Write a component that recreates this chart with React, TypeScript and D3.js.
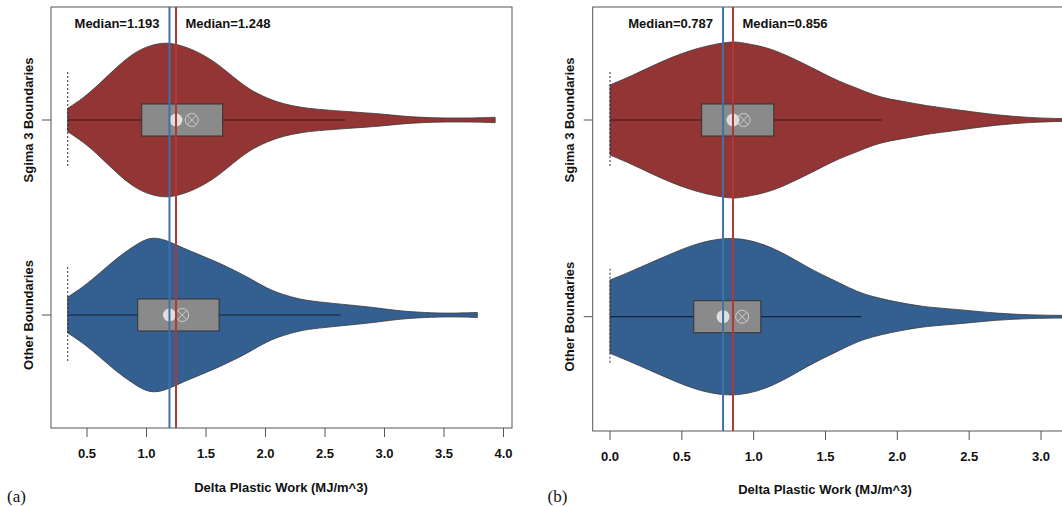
import { area, curveBasis, scaleLinear, scalePoint, select } from 'd3'
import { useEffect, useRef } from 'react'

// categories (top to bottom)
const categories = ['Sgima 3 Boundaries', 'Other Boundaries']

// tick labels
const ticksA = [0.5, 1.0, 1.5, 2.0, 2.5, 3.0, 3.5, 4.0]
const ticksB = [0.0, 0.5, 1.0, 1.5, 2.0, 2.5, 3.0]

// medians: [other (blue), sigma 3 (red)]
const mediansA = [1.193, 1.248]
const mediansB = [0.787, 0.856]

// violin outlines: [value, relative density]
const densityA_sigma: [number, number][] = [
  [0.338, 0.15], [0.469, 0.28], [0.61, 0.47], [0.75, 0.68], [0.89, 0.86], [1.03, 0.96],
  [1.17, 1.0], [1.31, 0.95], [1.45, 0.86], [1.59, 0.73], [1.73, 0.55], [1.87, 0.385],
  [2.01, 0.28], [2.15, 0.205], [2.29, 0.163], [2.43, 0.137], [2.71, 0.106], [3.0, 0.075],
  [3.13, 0.05], [3.41, 0.025], [3.7, 0.024], [3.93, 0.035],
]
const densityA_other: [number, number][] = [
  [0.338, 0.23], [0.469, 0.36], [0.61, 0.54], [0.75, 0.73], [0.89, 0.88], [1.03, 1.01],
  [1.17, 0.96], [1.31, 0.855], [1.45, 0.77], [1.59, 0.68], [1.73, 0.58], [1.87, 0.47],
  [2.01, 0.34], [2.15, 0.26], [2.29, 0.2], [2.43, 0.17], [2.71, 0.128], [2.95, 0.09],
  [3.13, 0.05], [3.41, 0.025], [3.6, 0.023], [3.78, 0.032],
]
const densityB_sigma: [number, number][] = [
  [0, 0.45], [0.146, 0.56], [0.378, 0.77], [0.61, 0.93], [0.84, 1.01], [0.905, 0.995],
  [1.02, 0.96], [1.14, 0.9], [1.25, 0.81], [1.37, 0.705], [1.48, 0.6], [1.6, 0.49],
  [1.72, 0.41], [1.83, 0.32], [1.95, 0.265], [2.07, 0.23], [2.18, 0.19], [2.3, 0.16],
  [2.46, 0.12], [2.69, 0.064], [2.92, 0.03], [3.14, 0.017], [3.4, 0.01],
]
const densityB_other: [number, number][] = [
  [0, 0.47], [0.146, 0.58], [0.378, 0.77], [0.61, 0.95], [0.8, 1.01], [0.905, 1.0],
  [1.02, 0.96], [1.14, 0.875], [1.25, 0.77], [1.37, 0.64], [1.48, 0.535], [1.6, 0.43],
  [1.72, 0.32], [1.83, 0.256], [1.95, 0.205], [2.07, 0.163], [2.18, 0.13], [2.3, 0.11],
  [2.46, 0.086], [2.69, 0.043], [2.92, 0.022], [3.14, 0.017], [3.4, 0.013],
]

// box summaries: [min, q1, median, q3, upper whisker, mean]
const boxA_sigma = [0.338, 0.96, 1.248, 1.64, 2.67, 1.38]
const boxA_other = [0.338, 0.926, 1.193, 1.61, 2.63, 1.3]
const boxB_sigma = [0, 0.638, 0.856, 1.14, 1.89, 0.93]
const boxB_other = [0, 0.583, 0.787, 1.05, 1.75, 0.92]

const RED = '#933535'
const BLUE = '#345f91'
const RED_LINE = '#ab3a3a'
const BLUE_LINE = '#4070ab'
const FONT = '"Liberation Sans", Arial, Helvetica, sans-serif'

function drawPanel(svg: any, p: any) {
  const x = scaleLinear().domain(p.domain).range(p.range)
  const y = scalePoint<string>().domain(categories).range(p.yRange)
  const w = scaleLinear().domain([0, 1]).range([0, 78])

  // frame
  svg
    .append('rect')
    .attr('x', p.left)
    .attr('y', 7)
    .attr('width', p.right - p.left)
    .attr('height', p.bottom - 7)
    .attr('fill', 'none')
    .attr('stroke', '#555')
    .attr('stroke-width', 1)

  const series = [
    { cat: categories[0], density: p.dSigma, box: p.bSigma, fill: RED, line: '#3a1818' },
    { cat: categories[1], density: p.dOther, box: p.bOther, fill: BLUE, line: '#15233a' },
  ]

  series.forEach((s) => {
    const cy = y(s.cat) as number
    const violin = area<[number, number]>()
      .x((d) => x(d[0]))
      .y0((d) => cy - w(d[1]))
      .y1((d) => cy + w(d[1]))
      .curve(curveBasis)

    svg
      .append('path')
      .attr('d', violin(s.density))
      .attr('fill', s.fill)
      .attr('stroke', '#3a3a3a')
      .attr('stroke-width', 0.8)

    // dotted line at the minimum
    svg
      .append('line')
      .attr('x1', x(s.box[0]))
      .attr('x2', x(s.box[0]))
      .attr('y1', cy - 48)
      .attr('y2', cy + 48)
      .attr('stroke', '#333')
      .attr('stroke-dasharray', '2,2')

    // whisker
    svg
      .append('line')
      .attr('x1', x(s.box[0]))
      .attr('x2', x(s.box[4]))
      .attr('y1', cy)
      .attr('y2', cy)
      .attr('stroke', s.line)
      .attr('stroke-width', 1.2)

    // box
    svg
      .append('rect')
      .attr('x', x(s.box[1]))
      .attr('y', cy - 16)
      .attr('width', x(s.box[3]) - x(s.box[1]))
      .attr('height', 32)
      .attr('fill', '#8a8a8a')
      .attr('stroke', '#333')
      .attr('stroke-width', 1)

    // median dot
    svg
      .append('circle')
      .attr('cx', x(s.box[2]))
      .attr('cy', cy)
      .attr('r', 6.5)
      .attr('fill', '#dedede')

    // mean: circle with cross
    const mx = x(s.box[5])
    const g = svg.append('g').attr('stroke', '#cfcfcf').attr('stroke-width', 1).attr('fill', 'none')
    g.append('circle').attr('cx', mx).attr('cy', cy).attr('r', 6.5)
    g.append('line').attr('x1', mx - 4.6).attr('x2', mx + 4.6).attr('y1', cy - 4.6).attr('y2', cy + 4.6)
    g.append('line').attr('x1', mx - 4.6).attr('x2', mx + 4.6).attr('y1', cy + 4.6).attr('y2', cy - 4.6)
  })

  // median lines
  const lines = [
    { v: p.medians[0], c: BLUE_LINE },
    { v: p.medians[1], c: RED_LINE },
  ]
  lines.forEach((l) => {
    svg
      .append('line')
      .attr('x1', x(l.v))
      .attr('x2', x(l.v))
      .attr('y1', 7)
      .attr('y2', p.bottom)
      .attr('stroke', l.c)
      .attr('stroke-width', 2)
  })

  svg
    .append('text')
    .attr('x', x(p.medians[0]) - 10)
    .attr('y', 27.5)
    .attr('text-anchor', 'end')
    .style('font', `bold 13px ${FONT}`)
    .attr('fill', '#111')
    .text(`Median=${p.medians[0].toFixed(3)}`)
  svg
    .append('text')
    .attr('x', x(p.medians[1]) + 9.5)
    .attr('y', 27.5)
    .style('font', `bold 13px ${FONT}`)
    .attr('fill', '#111')
    .text(`Median=${p.medians[1].toFixed(3)}`)

  // x axis
  p.ticks.forEach((t: number) => {
    svg
      .append('line')
      .attr('x1', x(t))
      .attr('x2', x(t))
      .attr('y1', p.bottom)
      .attr('y2', p.bottom + 9)
      .attr('stroke', '#555')
    svg
      .append('text')
      .attr('x', x(t))
      .attr('y', p.bottom + 30)
      .attr('text-anchor', 'middle')
      .style('font', `bold 13px ${FONT}`)
      .attr('fill', '#111')
      .text(t.toFixed(1))
  })

  svg
    .append('text')
    .attr('x', p.titleX)
    .attr('y', p.titleY)
    .attr('text-anchor', 'middle')
    .style('font', `bold 13px ${FONT}`)
    .attr('fill', '#111')
    .text('Delta Plastic Work (MJ/m^3)')

  // y axis
  categories.forEach((c) => {
    const cy = y(c) as number
    svg
      .append('line')
      .attr('x1', p.left - 9)
      .attr('x2', p.left)
      .attr('y1', cy)
      .attr('y2', cy)
      .attr('stroke', '#555')
    svg
      .append('text')
      .attr('transform', `translate(${p.labelX},${cy}) rotate(-90)`)
      .attr('text-anchor', 'middle')
      .attr('dy', '0.35em')
      .style('font', `bold 13px ${FONT}`)
      .attr('fill', '#111')
      .text(c)
  })

  svg
    .append('text')
    .attr('x', p.tagX)
    .attr('y', 502)
    .style('font', '17px "Liberation Serif", "Times New Roman", serif')
    .attr('fill', '#111')
    .text(p.tag)
}

export default function App() {
  const svgRef = useRef<SVGSVGElement>(null)

  useEffect(() => {
    const svg = select(svgRef.current)
    svg.selectAll('*').remove()

    drawPanel(svg, {
      domain: [0.5, 4.0],
      range: [87, 503.5],
      yRange: [120, 315],
      left: 51,
      right: 512,
      bottom: 428,
      ticks: ticksA,
      medians: mediansA,
      dSigma: densityA_sigma,
      dOther: densityA_other,
      bSigma: boxA_sigma,
      bOther: boxA_other,
      labelX: 28,
      titleX: 281,
      titleY: 491.5,
      tag: '(a)',
      tagX: 7,
    })

    drawPanel(svg, {
      domain: [0.0, 3.0],
      range: [610, 1041],
      yRange: [120, 316.7],
      left: 592.7,
      right: 1080,
      bottom: 431,
      ticks: ticksB,
      medians: mediansB,
      dSigma: densityB_sigma,
      dOther: densityB_other,
      bSigma: boxB_sigma,
      bOther: boxB_other,
      labelX: 569,
      titleX: 825,
      titleY: 494,
      tag: '(b)',
      tagX: 547.5,
    })
  }, [])

  return (
    <svg
      ref={svgRef}
      width={1062}
      height={507}
      style={{ position: 'absolute', left: 0, top: 0, background: '#fff' }}
    />
  )
}
